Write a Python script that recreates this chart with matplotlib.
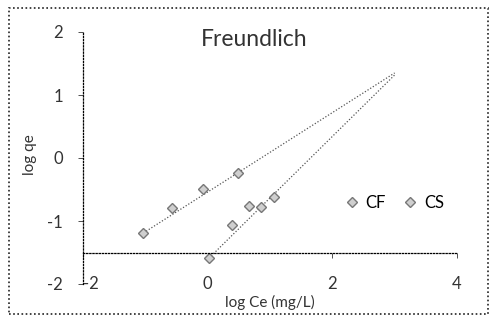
import numpy as np
import matplotlib.pyplot as plt
from matplotlib.patches import Rectangle

# Data (log Ce, log qe)
cf_x = [-1.03, -0.58, -0.08, 0.48]
cf_y = [-1.19, -0.79, -0.49, -0.24]
cs_x = [0.02, 0.39, 0.66, 0.85, 1.07]
cs_y = [-1.59, -1.06, -0.76, -0.78, -0.62]
series_names = ['CF', 'CS']
# trendlines as drawn in the reference (slope, intercept), projected to x = 3
cf_trend = (0.63, -0.54)
cs_trend = (0.976, -1.61)
trend_end = 3.0
x_ticks = [-2, 0, 2, 4]
y_ticks = [-2, -1, 0, 1, 2]

plt.rcParams['font.family'] = ['Lato', 'DejaVu Sans']

fig = plt.figure(figsize=(4.9, 3.16), dpi=100)
ax = fig.add_axes([83 / 490, 1 - 284 / 316, 374 / 490, 252 / 316])

dot = (0, (1, 1.5))
txt_col = '#333333'
marker_kw = dict(marker='D', markersize=5.5, markerfacecolor='#cfcfcf',
                 markeredgecolor='#777777', markeredgewidth=1.0, linestyle='none')

for xs, (k, b) in [(cf_x, cf_trend), (cs_x, cs_trend)]:
    xx = np.array([min(xs), trend_end])
    ax.plot(xx, k * xx + b, color='#555555', linestyle=dot, linewidth=0.9)

ax.plot(cf_x, cf_y, label=series_names[0], **marker_kw)
ax.plot(cs_x, cs_y, label=series_names[1], **marker_kw)

ax.set_xlim(-2, 4)
ax.set_ylim(-2, 2)

for s in ['top', 'right']:
    ax.spines[s].set_visible(False)
ax.spines['left'].set_linestyle(dot)
ax.spines['left'].set_linewidth(0.9)
ax.spines['bottom'].set_position(('data', -1.5))
ax.spines['bottom'].set_linestyle(dot)
ax.spines['bottom'].set_linewidth(0.9)

ax.set_yticks(y_ticks)
ax.set_yticklabels([str(t) for t in y_ticks], fontsize=12)
ax.tick_params(axis='y', length=3.6, width=0.6, pad=11, colors=txt_col)
ax.set_xticks(x_ticks)
ax.set_xticklabels([])
ax.tick_params(axis='x', length=3.6, width=0.6, colors=txt_col)
for t in x_ticks:
    # Excel nudges the first label off the vertical axis
    ax.text(t, -2, str(t), ha='left' if t == x_ticks[0] else 'center',
            va='center', fontsize=12, color=txt_col)

ax.legend(loc='center', bbox_to_anchor=(0.835, 0.321), ncol=2, frameon=False,
          fontsize=12, handlelength=0.6, handletextpad=0.5, columnspacing=1.2,
          markerscale=0.85)

fig.text(254 / 490, 1 - 40 / 316, 'Freundlich', ha='center', va='center',
         fontsize=16.5, color=txt_col)
fig.text(270 / 490, 1 - 302 / 316, 'log Ce (mg/L)', ha='center', va='center',
         fontsize=11, color=txt_col)
fig.text(30 / 490, 1 - 155 / 316, 'log qe', ha='center', va='center',
         rotation=90, fontsize=11, color=txt_col)

# dotted chart-area border
fig.patches.append(Rectangle((9 / 490, 2 / 316), 479 / 490, 306 / 316,
                             transform=fig.transFigure, fill=False,
                             edgecolor='#222222', linestyle=dot, linewidth=1.2))

fig.savefig('out.png', dpi=100)
